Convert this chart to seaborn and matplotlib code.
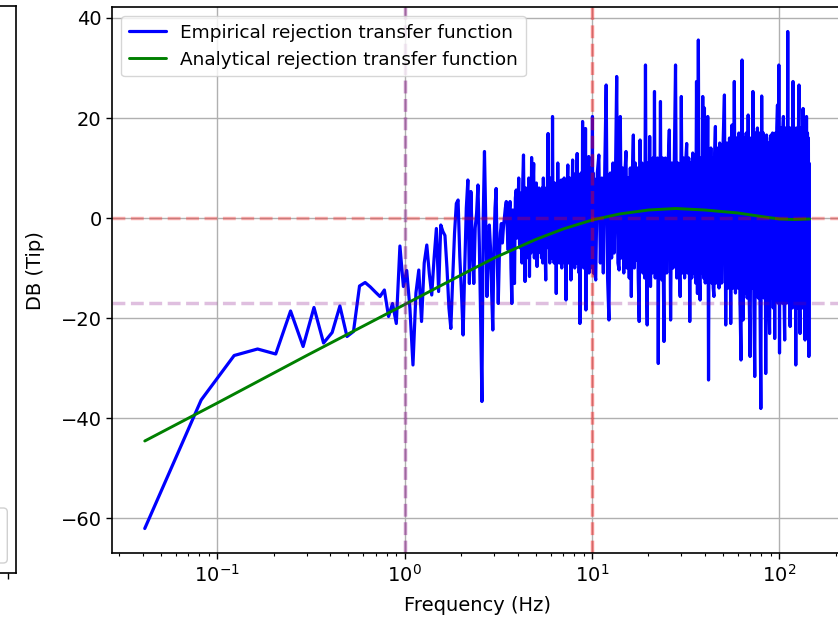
import numpy as np
import pandas as pd
import matplotlib
matplotlib.use("Agg")
import matplotlib.pyplot as plt
import seaborn as sns
from matplotlib.patches import FancyBboxPatch
from matplotlib.transforms import IdentityTransform

# ---------------- data ----------------
FREQ_STEP = 0.041  # FFT bin spacing (Hz)

# empirical rejection transfer function (dB), bins k = 1..100
emp_low_db = [
    -62.1, -36.4, -27.5, -26.2, -27.2, -18.6, -25.7, -17.9, -25.0, -22.9,
    -17.6, -23.7, -22.7, -13.6, -12.9, -13.8, -14.8, -15.7, -14.4, -19.7,
    -17.1, -21.1, -5.6, -13.7, -10.5, -18.0, -29.4, -15.0, -10.4, -20.7,
    -9.0, -5.4, -11.1, -15.4, -8.0, -2.1, -14.7, -1.4, -2.7, -3.5,
    -10.0, -18.0, -22.1, -12.0, -3.0, 2.9, 3.6, -7.7, -15.0, -23.4,
    -10.0, 2.0, 7.6, -13.1, 5.3, -5.0, -13.1, -2.0, 1.0, 6.6,
    -5.0, -20.0, -36.7, 0.0, 13.3, 0.0, -15.7, -8.0, -1.4, -6.0,
    -15.0, -22.4, -6.0, 2.0, 5.9, -8.0, -17.1, -8.0, -3.0, -1.1,
    -5.0, -2.0, 0.0, 2.0, 3.3, -2.0, -6.4, 1.0, 3.3, -10.0,
    -17.1, 1.6, -6.0, -13.1, 4.0, 5.6, -4.0, 0.0, 8.0, -5.0,
]
# bins k = 101..250
emp_mid_db = [
    -6, 5, -9, 7, 12.6, -4, -12.7, 6, -8, 5,
    -6, 8, -11.7, 3, -7, 12.1, -5, 6, 10.9, -8,
    4, -6, 7, -9.7, 5, -7, 6, -5, 3, 4.3,
    -8, 6, -9, 8, -6, 5, -7, -12.4, 6, -5,
    8, 16.9, -6, 7, -9, 8, -7, 5, -8, 20.3,
    -4, 6, -9, 7, -8, 4, -15.1, 6, -7, 11,
    -8, 5, -9, 7, -6, 4, 7.6, -10, 6, -8,
    5, -7, 8, -9, 6, -7, -16.4, 5, -8, 7,
    10.6, -9, 6, -7, 8, -6, 5, -12.4, 7, -8,
    6, 11.6, -9, 7, -8, 6, -10, 8, -7, 9,
    -9, 6, 12.9, -8, 7, -9, 5, -11, 6, -21.1,
    8, -7, 9, -8, 7, -6, 19.3, -9, 8, -10,
    7, -8, 9, -7, 17.9, -18.4, 8, -9, 7, -10,
    8, -8, 9, 12.3, -11, 7, -9, 8, -10, 9,
    -8, 10, -9, 8, 20.3, -7, 9, -11, 8, -10,
]
# bins k = 255..595, every 5th bin
emp_hi1_db = [
    -12.4, 9, 12.6, -9, 8, -11, 10, 26.6, -12, -20.4,
    9, -8, 11, -7, 8, 28.3, -9, -10.4, 20.3, -8,
    10, -11, 9, 13.3, -10, 8, -12, 10, -15.7, 9,
    16.6, -10, 11, -8.4, 10, -12, -20.7, 15.6, -10, 11,
    -11, 10, -12, 30.6, -9, -21.4, 11, -12, 16.3, -13.7,
    10, -11, 12, -10, 25.3, -12, 11, -9, 12, -29.1,
    10, -11, 23.3, -10, -12.4, 12, -11, -24.7, 11,
]
# bins k = 600..1190, every 10th bin
emp_hi2_db = [
    12, -11, 10, 17.6, -20.4, 11, -10, 12, 30.6, -12,
    11, -10, -15.7, 24.3, -11, 12, -12, 11, 14.9, -11,
    12, -20.7, 11, -12, 13, -11, 12, -13, 27.3, -15.1,
    35.6, -12, -16.4, 12, -11, 24.3, -12, 22, -13, 13,
    -12, 20.3, -32.4, 13, -12, 14, -13, 12, -14, -15.7,
    13, 18.3, -13, 14, -12, 13, -14, 15, -13, 14,
]
# bins k = 1200..3520, every 20th bin
emp_hi3_db = [
    -13, 15, 24.6, -21.4, 15, -14, 16, -21.1, 18.6, -14,
    27.3, -15, 16, -14, 17, -16, -28.4, 31.6, -20.4, 16,
    -15, 17, -16, 20.6, -15, -27.7, 16, -14, 25.3, -16,
    -31.7, 17, -15, 18, -16, 17, -17, -38.1, 24.4, -15,
    17, -16, 16, -31.1, 16.6, -15, 15, -17, -23.1, 16,
    16.6, -16, 17, -18, 16, -24.1, 17, -16, 18, 22.6,
    -17, 30.6, -27, 17, -16, 18, -17, 17, 20.3, -16,
    -24.4, 18, -17, 17, -16, 37.3, -17, 18, -16, -21.7,
    18, -17, 17, -18, 27.3, -16, 18, -17, 17, -29.4,
    18, -16, 17, -18, 18, 26.6, -17, -23.1, 18, -16,
    17, -18, 16, 21.9, -17, 18, -16, -24.4, 18, -17,
    20.3, -16, 17, -18, 16, -27.7, 10.9,
]

# analytical rejection transfer function
ana_freq = [0.041, 0.1, 0.3, 1.0, 2.0, 3.0, 5.0, 7.0, 10.0, 14.0,
            20.0, 28.0, 40.0, 60.0, 80.0, 100.0, 120.0, 145.0]
ana_db = [-44.6, -37.0, -27.5, -17.3, -11.4, -8.0, -4.3, -2.2, -0.4, 0.8,
          1.6, 1.9, 1.6, 1.0, 0.3, -0.2, -0.3, -0.2]

# reference levels
H_LEVEL_RED = 0.0
H_LEVEL_PURPLE = -17.0
V_LEVEL_PURPLE = 1.0
V_LEVEL_RED = 10.0

# ---------------- build tables ----------------
def bins(start, step, n):
    return FREQ_STEP * (start + step * np.arange(n))

emp_freq = np.concatenate([
    bins(1, 1, len(emp_low_db)),
    bins(101, 1, len(emp_mid_db)),
    bins(255, 5, len(emp_hi1_db)),
    bins(600, 10, len(emp_hi2_db)),
    bins(1200, 20, len(emp_hi3_db)),
])
emp_db = np.concatenate([emp_low_db, emp_mid_db, emp_hi1_db, emp_hi2_db, emp_hi3_db])
df_emp = pd.DataFrame({"freq": emp_freq, "db": emp_db})
df_ana = pd.DataFrame({"freq": ana_freq, "db": ana_db})

# ---------------- style ----------------
sns.set_style("ticks")
plt.rcParams.update({
    "font.family": ["DejaVu Sans"],
    "text.color": "black",
    "axes.labelcolor": "black",
    "xtick.color": "black",
    "ytick.color": "black",
    "axes.edgecolor": "black",
    "axes.linewidth": 1.2,
    "xtick.major.size": 4,
    "ytick.major.size": 4,
    "xtick.minor.size": 2.5,
    "xtick.major.width": 1.0,
    "ytick.major.width": 1.0,
    "xtick.minor.width": 0.8,
    "xtick.labelsize": 14,
    "ytick.labelsize": 14,
    "axes.labelsize": 14,
    "legend.fontsize": 13.3,
    "axes.axisbelow": True,
})

fig = plt.figure(figsize=(8.38, 6.2), dpi=100)

# fragment of the neighbouring subplot on the left
ax_l = fig.add_axes([-0.3, 0.0758, 0.31909, 0.9145])
ax_l.set_xlim(0, 1)
ax_l.set_ylim(0, 1)
ax_l.set_yticks([])
ax_l.set_xticks([0.970])
ax_l.set_xticklabels([""])
ax_l.grid(False)
leg_frag = FancyBboxPatch((-60, 57), 67.3, 55,
                          boxstyle="round,pad=0,rounding_size=4",
                          transform=IdentityTransform(),
                          fc="white", ec="#d0d0d0", lw=1.0)
fig.add_artist(leg_frag)

# main axes
ax = fig.add_axes([0.13365, 0.10806, 0.87232, 0.88065])
sns.lineplot(data=df_emp, x="freq", y="db", ax=ax, color="blue", lw=2.3,
             estimator=None, sort=False,
             label="Empirical rejection transfer function")
sns.lineplot(data=df_ana, x="freq", y="db", ax=ax, color="green", lw=2.1,
             estimator=None, sort=False,
             label="Analytical rejection transfer function")
ax.set_xscale("log")

ax.axhline(H_LEVEL_RED, color="red", ls="--", lw=2.5, alpha=0.3)
ax.axhline(H_LEVEL_PURPLE, color="purple", ls="--", lw=2.5, alpha=0.25)
ax.axvline(V_LEVEL_PURPLE, color="purple", ls="--", lw=2.5, alpha=0.4)
ax.axvline(V_LEVEL_RED, color="red", ls="--", lw=2.5, alpha=0.4)

ax.grid(True, which="major", color="#b0b0b0", lw=1.0)
ax.set_xlim(10 ** -1.562, 10 ** 2.339)
ax.set_ylim(-67.0, 42.2)
ax.set_yticks([-60, -40, -20, 0, 20, 40])

ax.set_xlabel("Frequency (Hz)", labelpad=7.5)
ax.set_ylabel("DB (Tip)")
ax.yaxis.set_label_coords(-0.092, 0.518)
ax.legend(loc="upper left")

fig.savefig("out.png", dpi=100)
